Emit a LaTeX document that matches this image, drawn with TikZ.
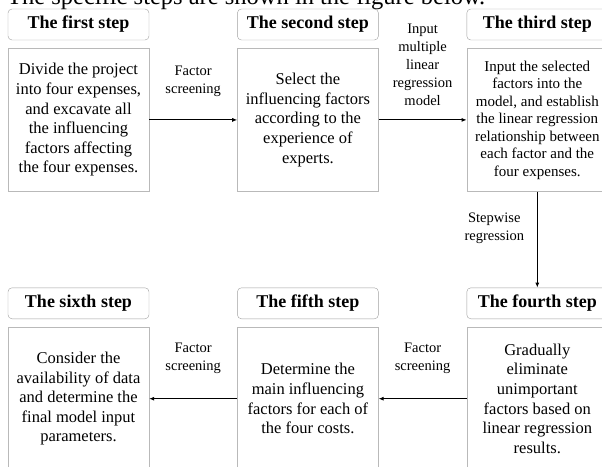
\documentclass[tikz,border=0pt]{standalone}
\usepackage{fontspec}
\setmainfont{Liberation Serif}
\usetikzlibrary{positioning,arrows.meta}

\tikzset{
  head/.style={draw=gray!75, rounded corners=4pt, minimum width=141pt, minimum height=31pt,
    inner sep=0pt, font=\fontsize{18}{20}\selectfont\bfseries},
  body/.style={draw=gray!55, minimum width=141pt, minimum height=143pt, inner sep=0pt,
    align=center, font=\fontsize{16.5}{19.6}\selectfont},
  lbl/.style={align=center, font=\fontsize{14.5}{18}\selectfont},
  flow/.style={-{Latex[length=5pt,width=4pt]}, line width=0.9pt},
}

\begin{document}
\begin{tikzpicture}[x=1pt,y=-1pt]
            \useasboundingbox (0,0) rectangle (602,466);
            \clip (0,0) rectangle (602,466);

            \node [anchor=base west, inner sep=0pt, font=\fontsize{24.5}{28}\selectfont] (title) at (7,4)
                {The specific steps are shown in the figure below.};

            \node [head] (h1) at (78.5,24.5) {The first step};
            \node [head, right=88pt of h1] (h2) {The second step};
            \node [head, right=88pt of h2] (h3) {The third step};

            \node [body, below=8pt of h1] (b1) {Divide the project\\into four expenses,\\and excavate all\\the influencing\\factors affecting\\the four expenses.};
            \node [body, below=8pt of h2] (b2) {Select the\\influencing factors\\according to the\\experience of\\experts.};
            \node [body, below=8pt of h3, font=\fontsize{15}{17.5}\selectfont] (b3) {Input the selected\\factors into the\\model, and establish\\the linear regression\\relationship between\\each factor and the\\four expenses.};

            \node [head, below=96pt of b3] (h4) {The fourth step};
            \node [head, left=88pt of h4] (h5) {The fifth step};
            \node [head, left=88pt of h5] (h6) {The sixth step};

            \node [body, below=8pt of h4] (b4) {Gradually\\eliminate\\unimportant\\factors based on\\linear regression\\results.};
            \node [body, below=8pt of h5] (b5) {Determine the\\main influencing\\factors for each of\\the four costs.};
            \node [body, below=8pt of h6] (b6) {Consider the\\availability of data\\and determine the\\final model input\\parameters.};

            \draw [flow] (b1) -- node [lbl, yshift=39pt] {Factor\\screening} (b2);
            \draw [flow] (b2) -- node [lbl, yshift=55pt] {Input\\multiple\\linear\\regression\\model} (b3);
            \draw [flow] (b3) -- node [lbl, xshift=-43pt, yshift=11pt] {Stepwise\\regression} (h4);
            \draw [flow] (b4) -- node [lbl, yshift=40pt] {Factor\\screening} (b5);
            \draw [flow] (b5) -- node [lbl, yshift=40pt] {Factor\\screening} (b6);
\end{tikzpicture}
\end{document}
